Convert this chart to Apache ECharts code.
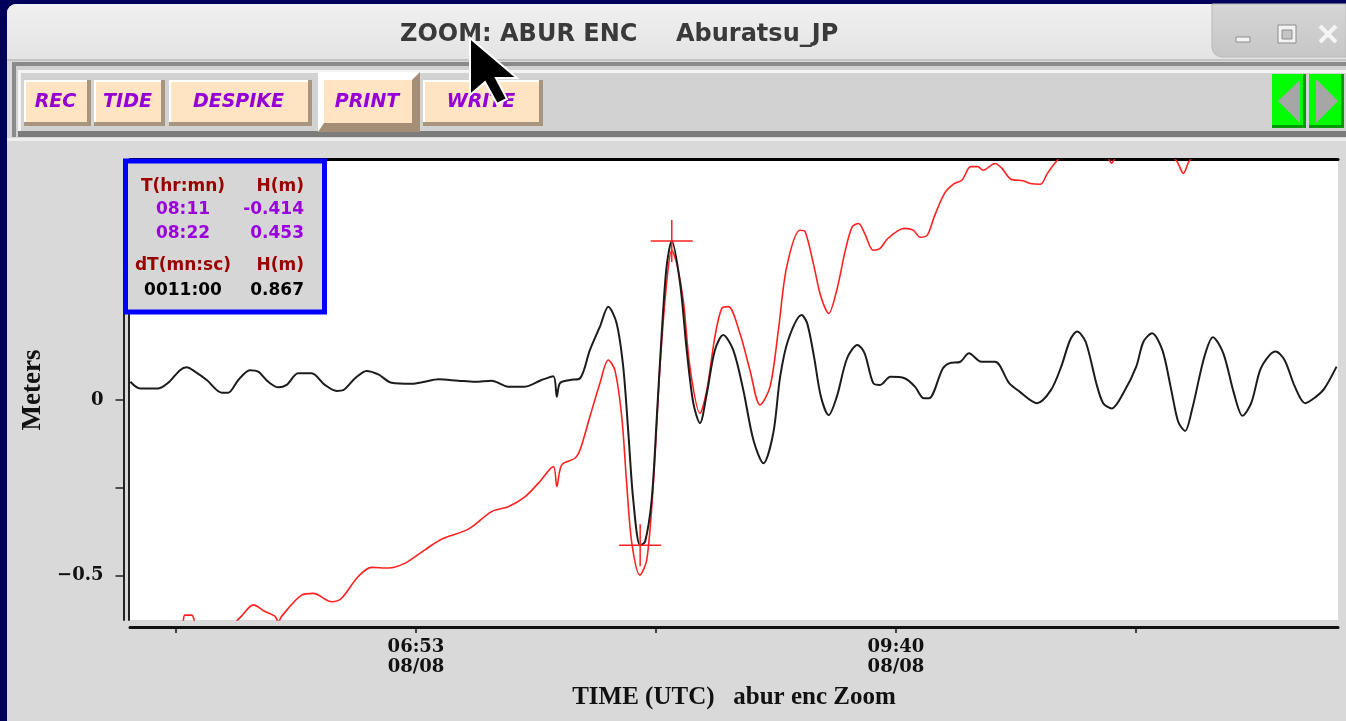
<!DOCTYPE html>
<html>
<head>
<meta charset="utf-8">
<title>ZOOM: ABUR ENC — Aburatsu_JP</title>
<script src="https://cdn.jsdelivr.net/npm/echarts@6/dist/echarts.min.js"></script>
<style>
  html, body { margin: 0; padding: 0; width: 1346px; height: 721px; overflow: hidden; background: #00005a; }
  #win { position: absolute; left: 7px; top: 4px; width: 1339px; height: 717px; background: #d9d9d9; border-top-left-radius: 9px; }
  #chart { position: absolute; left: 0; top: 0; width: 1346px; height: 721px; }
</style>
</head>
<body>
<div id="win"></div>
<div id="chart"></div>
<script>
// Time axis is in minutes of the day (UTC), heights in metres.
const xMin = 313.5;
const xMax = 733.8;
const yMin = -0.627;
const yMax = 0.684;

const xTickMinutes = [329.5, 413, 496.5, 580, 663.5];
const xLabelMinutes = [413, 580];
const xLabelDate = '08/08';
const yTickValues = [-0.5, -0.25, 0];
const yLabelValues = [-0.5, 0];

// De-tided residual (black)
const residualTime = [313.6, 317.0, 323.3, 326.8, 330.9, 333.2, 336.1, 340.2, 345.4, 347.7,
  351.2, 355.2, 358.1, 361.6, 365.1, 368.0, 372.0, 376.7, 381.3, 385.4,
  387.7, 391.8, 395.8, 399.9, 404.5, 411.5, 416.1, 420.8, 427.7, 433.5,
  439.3, 445.1, 450.9, 456.7, 460.8, 462.0, 463.1, 466.6, 470.1, 473.5,
  477.0, 479.9, 482.8, 485.1, 486.9, 488.6, 491.0, 492.7, 495.0, 496.8,
  498.5, 500.2, 502.0, 504.9, 507.2, 509.5, 511.8, 514.2, 517.0, 519.9,
  523.4, 526.9, 530.4, 533.9, 537.3, 539.7, 542.5, 547.2, 549.1, 551.5,
  553.9, 556.6, 559.4, 563.0, 566.6, 569.1, 572.1, 574.5, 578.1, 583.0,
  586.6, 589.7, 591.5, 596.3, 598.7, 602.4, 605.4, 609.7, 614.5, 619.4,
  623.0, 629.1, 633.9, 637.5, 640.6, 643.0, 646.0, 649.7, 652.1, 655.1,
  659.4, 663.6, 666.1, 669.1, 672.7, 675.8, 678.2, 680.6, 683.0, 687.3,
  690.3, 693.9, 697.6, 700.6, 703.6, 706.7, 709.7, 712.1, 715.2, 718.8,
  722.4, 726.1, 729.1, 733.3];
const residualH = [0.052, 0.033, 0.033, 0.049, 0.085, 0.093, 0.081, 0.057, 0.021, 0.021,
  0.057, 0.085, 0.081, 0.052, 0.036, 0.043, 0.076, 0.076, 0.043, 0.026,
  0.028, 0.062, 0.083, 0.073, 0.049, 0.046, 0.052, 0.059, 0.055, 0.052,
  0.055, 0.038, 0.038, 0.057, 0.068, 0.009, 0.048, 0.057, 0.062, 0.142,
  0.209, 0.266, 0.219, 0.095, -0.095, -0.285, -0.414, -0.404, -0.285, -0.048,
  0.190, 0.380, 0.453, 0.332, 0.142, -0.009, -0.066, 0.019, 0.142, 0.185,
  0.142, 0.028, -0.114, -0.180, -0.095, 0.066, 0.171, 0.242, 0.219, 0.123,
  0.009, -0.043, 0.009, 0.119, 0.157, 0.133, 0.048, 0.043, 0.066, 0.062,
  0.038, 0.005, 0.005, 0.090, 0.105, 0.109, 0.133, 0.109, 0.109, 0.048,
  0.024, -0.009, 0.028, 0.095, 0.171, 0.195, 0.166, 0.048, -0.009, -0.024,
  0.024, 0.095, 0.166, 0.190, 0.142, 0.028, -0.062, -0.088, -0.028, 0.123,
  0.179, 0.133, 0.019, -0.045, -0.009, 0.085, 0.125, 0.138, 0.114, 0.038,
  -0.009, 0.009, 0.033, 0.095];

// Raw gauge record (red)
const rawTime = [313.6, 325.0, 331.5, 332.6, 335.0, 336.5, 342.0, 348.5, 352.3, 356.4,
  360.5, 363.9, 365.1, 366.3, 373.2, 377.3, 383.7, 387.1, 392.9, 397.6,
  403.4, 409.2, 416.1, 421.9, 431.2, 439.3, 445.1, 450.9, 455.6, 460.8,
  462.0, 463.7, 468.3, 470.1, 473.5, 477.0, 479.9, 482.2, 484.6, 486.3,
  488.1, 490.9, 493.3, 495.6, 497.9, 500.2, 502.0, 503.7, 506.0, 508.3,
  511.8, 514.2, 517.0, 519.4, 521.7, 525.7, 529.2, 532.7, 536.2, 539.1,
  542.0, 546.6, 548.4, 551.5, 553.9, 556.6, 559.4, 562.4, 564.8, 567.0,
  569.1, 572.1, 574.5, 576.9, 580.6, 583.0, 586.0, 588.4, 590.9, 593.3,
  596.9, 600.0, 603.0, 606.0, 608.5, 610.3, 614.5, 616.9, 620.0, 624.2,
  626.7, 630.3, 632.7, 635.7, 640.0, 646.0, 651.0, 653.8, 655.0, 656.2,
  658.0, 665.0, 672.0, 677.6, 680.0, 682.3, 690.0, 705.0, 720.0, 733.7];
const rawH = [-0.68, -0.66, -0.64, -0.613, -0.613, -0.64, -0.665, -0.645, -0.616, -0.584,
  -0.603, -0.616, -0.632, -0.616, -0.556, -0.551, -0.575, -0.565, -0.503, -0.477,
  -0.479, -0.465, -0.427, -0.397, -0.368, -0.318, -0.304, -0.276, -0.237, -0.190,
  -0.247, -0.185, -0.166, -0.142, -0.048, 0.048, 0.114, 0.085, -0.048, -0.237,
  -0.408, -0.499, -0.456, -0.237, 0.095, 0.332, 0.427, 0.390, 0.285, 0.095,
  -0.038, 0.028, 0.180, 0.261, 0.266, 0.190, 0.085, -0.014, 0.038, 0.200,
  0.380, 0.484, 0.480, 0.380, 0.294, 0.247, 0.313, 0.427, 0.494, 0.503,
  0.475, 0.427, 0.432, 0.458, 0.482, 0.489, 0.484, 0.464, 0.470, 0.522,
  0.589, 0.615, 0.627, 0.665, 0.665, 0.655, 0.674, 0.660, 0.629, 0.625,
  0.617, 0.615, 0.646, 0.679, 0.715, 0.735, 0.71, 0.69, 0.675, 0.69,
  0.71, 0.74, 0.72, 0.682, 0.646, 0.684, 0.73, 0.76, 0.77, 0.75];

// Two cursor picks on the residual: trough and crest
const pickTime = [491, 502];      // 08:11, 08:22
const pickH = [-0.414, 0.453];

const toolButtons = ['REC', 'TIDE', 'DESPIKE', 'PRINT', 'WRITE'];

function pad(n, w) { return String(n).padStart(w, '0'); }
function hhmm(min) { return pad(Math.floor(min / 60), 2) + ':' + pad(Math.round(min % 60), 2); }

const dMin = pickTime[1] - pickTime[0];
const dTText = pad(Math.floor(dMin), 4) + ':' + pad(Math.round((dMin % 1) * 60), 2);
const dHText = (pickH[1] - pickH[0]).toFixed(3);

const serifTick = { fontFamily: 'DejaVu Serif', fontWeight: 'bold', fontSize: 18, color: '#111' };

// ---------- window chrome ----------
const g = [];
// title bar
g.push({ type: 'rect', shape: { x: 7, y: 4, width: 1339, height: 57, r: [9, 0, 0, 0] },
  style: { fill: { type: 'linear', x: 0, y: 0, x2: 0, y2: 1,
    colorStops: [{ offset: 0, color: '#f0f0f0' }, { offset: 1, color: '#e3e3e3' }] } } });
g.push({ type: 'rect', shape: { x: 7, y: 59, width: 1339, height: 2 }, style: { fill: '#c4c4c4' } });
g.push({ type: 'text', x: 400, y: 35, style: { text: 'ZOOM: ABUR ENC', font: 'bold 24px "DejaVu Sans"', fill: '#3a3a3a', align: 'left', verticalAlign: 'middle' } });
g.push({ type: 'text', x: 676, y: 35, style: { text: 'Aburatsu_JP', font: 'bold 24px "DejaVu Sans"', fill: '#3a3a3a', align: 'left', verticalAlign: 'middle' } });
// window controls tab
g.push({ type: 'rect', shape: { x: 1212, y: 4, width: 134, height: 53, r: [0, 0, 0, 10] },
  style: { fill: { type: 'linear', x: 0, y: 0, x2: 0, y2: 1,
    colorStops: [{ offset: 0, color: '#d6d6d6' }, { offset: 1, color: '#c6c6c6' }] }, stroke: '#b8b8b8', lineWidth: 1 } });
g.push({ type: 'rect', shape: { x: 1236, y: 37, width: 14, height: 5 }, style: { fill: '#f4f4f4', stroke: '#8c8c8c', lineWidth: 1 } });
g.push({ type: 'rect', shape: { x: 1278, y: 25, width: 18, height: 18 }, style: { fill: '#f2f2f2', stroke: '#8c8c8c', lineWidth: 1 } });
g.push({ type: 'rect', shape: { x: 1282, y: 30, width: 10, height: 9 }, style: { fill: '#c4c4c4', stroke: '#8c8c8c', lineWidth: 1 } });
g.push({ type: 'line', shape: { x1: 1320, y1: 26, x2: 1336, y2: 42 }, style: { stroke: '#f4f4f4', lineWidth: 4 } });
g.push({ type: 'line', shape: { x1: 1336, y1: 26, x2: 1320, y2: 42 }, style: { stroke: '#f4f4f4', lineWidth: 4 } });

// tool bar frame
g.push({ type: 'rect', shape: { x: 12, y: 62, width: 1334, height: 75 }, style: { fill: '#d2d2d2' } });
g.push({ type: 'rect', shape: { x: 12, y: 62, width: 1334, height: 4 }, style: { fill: '#8a8a8a' } });
g.push({ type: 'rect', shape: { x: 12, y: 62, width: 4, height: 75 }, style: { fill: '#8a8a8a' } });
g.push({ type: 'rect', shape: { x: 21, y: 70, width: 1325, height: 3 }, style: { fill: '#f4f4f4' } });
g.push({ type: 'rect', shape: { x: 18, y: 70, width: 3, height: 61 }, style: { fill: '#f4f4f4' } });
g.push({ type: 'rect', shape: { x: 18, y: 131, width: 1328, height: 6 }, style: { fill: '#7c7c7c' } });
g.push({ type: 'rect', shape: { x: 7, y: 138, width: 1339, height: 3 }, style: { fill: '#eeeeee' } });

// peach buttons
const btnBoxes = [[24, 80, 67, 46], [94, 80, 71, 46], [169, 80, 143, 46], [318, 72, 102, 60], [423, 80, 120, 46]];
toolButtons.forEach((label, i) => {
  const [x, y, w, h] = btnBoxes[i];
  if (label === 'PRINT') {
    g.push({ type: 'rect', shape: { x, y, width: w, height: h }, style: { fill: '#ffffff' } });
    g.push({ type: 'polygon', shape: { points: [[x, y + h], [x + w, y + h], [x + w, y], [x + w - 8, y + 8], [x + w - 8, y + h - 9], [x + 6, y + h - 9]] }, style: { fill: '#a48e76' } });
    g.push({ type: 'rect', shape: { x: x + 6, y: y + 8, width: w - 14, height: h - 17 }, style: { fill: '#ffe4c4' } });
    g.push({ type: 'text', x: x + w / 2 - 2, y: y + 30, style: { text: label, font: 'italic bold 19px "DejaVu Sans"', fill: '#9400d6', align: 'center', verticalAlign: 'middle' } });
  } else {
    g.push({ type: 'rect', shape: { x, y, width: w, height: h }, style: { fill: '#a8957e' } });
    g.push({ type: 'rect', shape: { x, y, width: w - 4, height: h - 4 }, style: { fill: '#ffffff' } });
    g.push({ type: 'rect', shape: { x: x + 2, y: y + 2, width: w - 6, height: h - 6 }, style: { fill: '#ffe4c4' } });
    g.push({ type: 'text', x: x + w / 2 - 2, y: y + h / 2 - 1, style: { text: label, font: 'italic bold 19px "DejaVu Sans"', fill: '#9400d6', align: 'center', verticalAlign: 'middle' } });
  }
});

// green scroll arrows
[[1272, 74, 34, 54, 'left'], [1309, 74, 35, 54, 'right']].forEach(([x, y, w, h, dir]) => {
  g.push({ type: 'rect', shape: { x, y, width: w, height: h }, style: { fill: '#009a00' } });
  g.push({ type: 'rect', shape: { x, y, width: w - 3, height: h - 3 }, style: { fill: '#00ff00' } });
  const pts = dir === 'left'
    ? [[x + 6, y + 27], [x + 28, y + 6], [x + 28, y + 49]]
    : [[x + 29, y + 27], [x + 7, y + 5], [x + 7, y + 49]];
  g.push({ type: 'polygon', shape: { points: pts }, style: { fill: '#a6a6a6' } });
});

// readout box
const boxZ = 100;
g.push({ type: 'rect', z: boxZ, shape: { x: 125.5, y: 161, width: 199, height: 151 }, style: { fill: '#d6d6d6', stroke: '#0000ff', lineWidth: 5 } });
const boxFont = 'bold 17px "DejaVu Sans"';
const boxRows = [
  { y: 187, l: 'T(hr:mn)', r: 'H(m)', c: '#9b0000' },
  { y: 210, l: hhmm(pickTime[0]), r: pickH[0].toFixed(3), c: '#9a00dc' },
  { y: 234, l: hhmm(pickTime[1]), r: pickH[1].toFixed(3), c: '#9a00dc' },
  { y: 266, l: 'dT(mn:sc)', r: 'H(m)', c: '#9b0000' },
  { y: 291, l: dTText, r: dHText, c: '#000000' }
];
boxRows.forEach(row => {
  g.push({ type: 'text', z: boxZ + 1, x: 183, y: row.y, style: { text: row.l, font: boxFont, fill: row.c, align: 'center', verticalAlign: 'middle' } });
  g.push({ type: 'text', z: boxZ + 1, x: 304, y: row.y, style: { text: row.r, font: boxFont, fill: row.c, align: 'right', verticalAlign: 'middle' } });
});

// mouse pointer
g.push({ type: 'polygon', z: 200, shape: { points: [[470, 38], [470, 95], [485, 82], [497, 104], [507, 99], [496, 78], [517, 78]] },
  style: { fill: '#000000', stroke: '#ffffff', lineWidth: 2, lineJoin: 'miter' } });

// ---------- chart ----------
const chart = echarts.init(document.getElementById('chart'), null, { renderer: 'canvas' });

const option = {
  animation: false,
  backgroundColor: 'transparent',
  grid: { left: 130, right: 8, top: 160, bottom: 101, show: true, backgroundColor: '#ffffff', borderWidth: 0 },
  xAxis: [
    {
      type: 'value', min: xMin, max: xMax, position: 'bottom', offset: 7,
      axisLine: { show: true, onZero: false, lineStyle: { color: '#111', width: 3 } },
      axisTick: { show: true, length: 6, customValues: xTickMinutes, lineStyle: { color: '#111', width: 1.5 } },
      axisLabel: { customValues: xLabelMinutes, margin: 10, lineHeight: 20, ...serifTick,
        formatter: v => hhmm(v) + '\n' + xLabelDate },
      splitLine: { show: false },
      name: 'TIME (UTC)   abur enc Zoom', nameLocation: 'middle', nameGap: 71,
      nameTextStyle: { fontFamily: 'Liberation Serif', fontWeight: 'bold', fontSize: 25, color: '#111', verticalAlign: 'middle' }
    },
    {
      type: 'value', min: xMin, max: xMax, position: 'top', offset: 1,
      axisLine: { show: true, onZero: false, lineStyle: { color: '#000', width: 3 } },
      axisTick: { show: false }, axisLabel: { show: false }, splitLine: { show: false }
    }
  ],
  yAxis: [
    {
      type: 'value', min: yMin, max: yMax, position: 'left', offset: 6.5,
      axisLine: { show: true, onZero: false, lineStyle: { color: '#222', width: 2 } },
      axisTick: { show: true, length: 8, customValues: yTickValues, lineStyle: { color: '#222', width: 1.5 } },
      axisLabel: { customValues: yLabelValues, margin: 20, ...serifTick,
        formatter: v => (v === 0 ? '0' : String(v).replace('-', '\u2212')) },
      splitLine: { show: false },
      name: 'Meters', nameLocation: 'middle', nameGap: 90,
      nameTextStyle: { fontFamily: 'Liberation Serif', fontWeight: 'bold', fontSize: 27, color: '#111', verticalAlign: 'middle' }
    },
    {
      type: 'value', min: yMin, max: yMax, position: 'left', offset: 1.5,
      axisLine: { show: true, onZero: false, lineStyle: { color: '#222', width: 2 } },
      axisTick: { show: false }, axisLabel: { show: false }, splitLine: { show: false }
    }
  ],
  graphic: { elements: g },
  series: [
    {
      name: 'raw', type: 'line', xAxisIndex: 0, yAxisIndex: 0, z: 3,
      data: rawTime.map((t, i) => [t, rawH[i]]),
      showSymbol: false, smooth: 0.3, clip: true,
      lineStyle: { color: '#ff2020', width: 1.6 }
    },
    {
      name: 'residual', type: 'line', xAxisIndex: 0, yAxisIndex: 0, z: 4,
      data: residualTime.map((t, i) => [t, residualH[i]]),
      showSymbol: false, smooth: 0.3, clip: true,
      lineStyle: { color: '#1c1c1c', width: 2 }
    },
    {
      name: 'picks', type: 'custom', xAxisIndex: 0, yAxisIndex: 0, z: 5, silent: true,
      data: pickTime.map((t, i) => [t, pickH[i]]),
      renderItem: (params, api) => {
        const p = api.coord([api.value(0), api.value(1)]);
        const s = 21;
        return {
          type: 'group',
          children: [
            { type: 'line', shape: { x1: p[0] - s, y1: p[1], x2: p[0] + s, y2: p[1] }, style: { stroke: '#ff2020', lineWidth: 1.5 } },
            { type: 'line', shape: { x1: p[0], y1: p[1] - s, x2: p[0], y2: p[1] + s }, style: { stroke: '#ff2020', lineWidth: 1.5 } }
          ]
        };
      }
    }
  ]
};
chart.setOption(option);
</script>
</body>
</html>
